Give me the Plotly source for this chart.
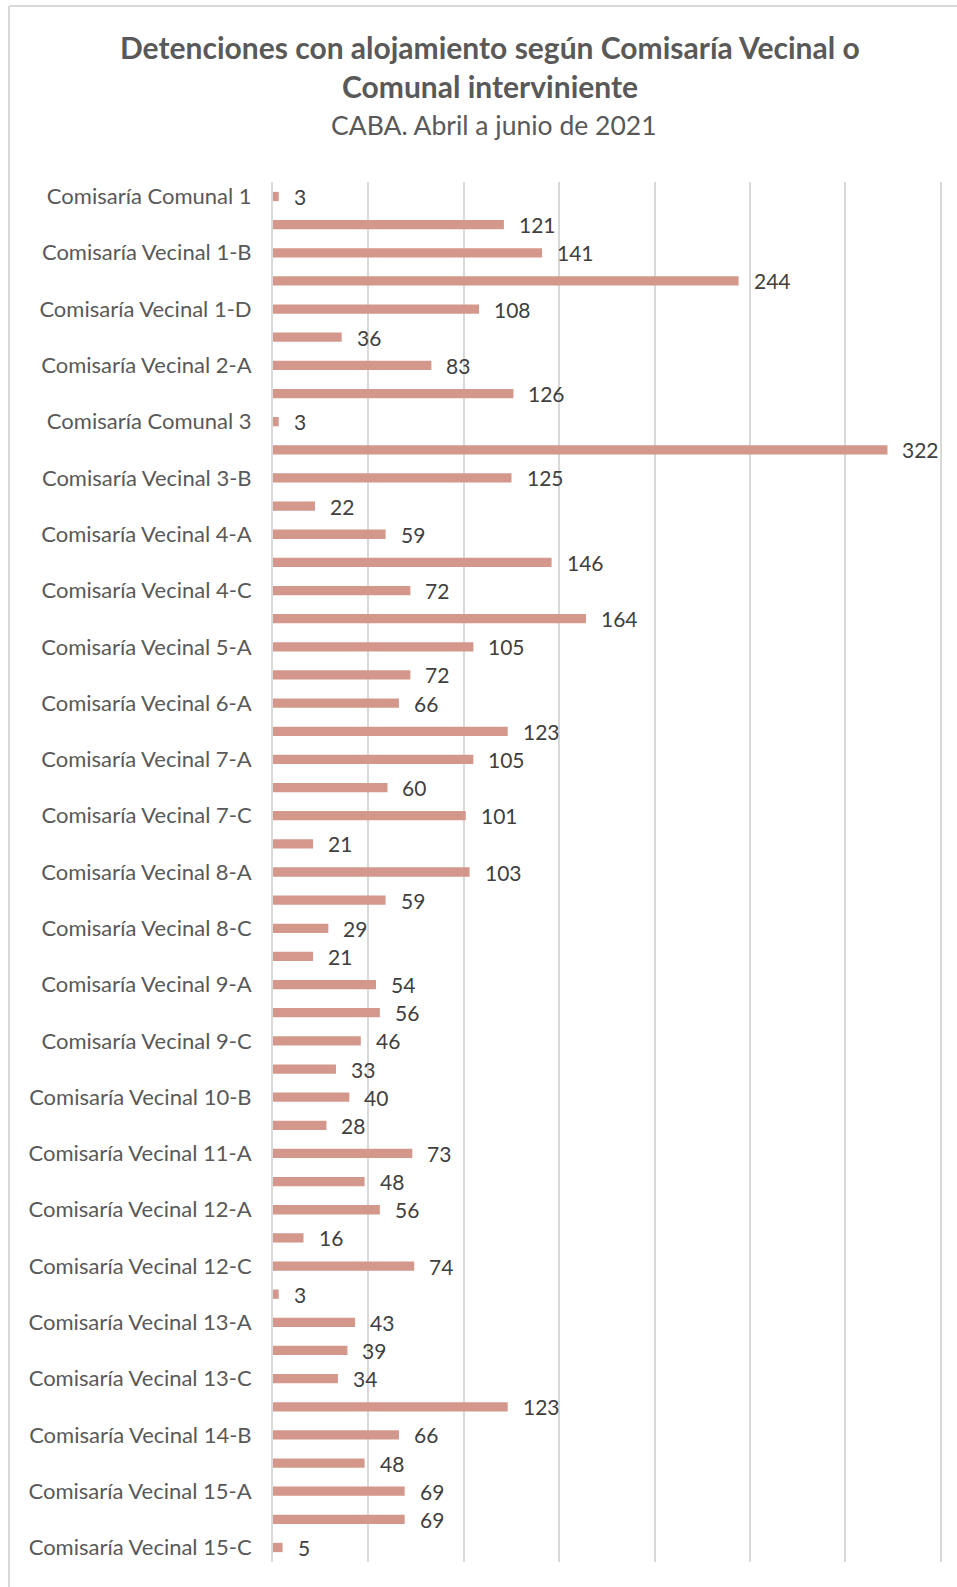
import plotly.graph_objects as go

categories = [
    "Comisaría Comunal 1", "Comisaría Vecinal 1-A", "Comisaría Vecinal 1-B", "Comisaría Vecinal 1-C",
    "Comisaría Vecinal 1-D", "Comisaría Vecinal 1-E", "Comisaría Vecinal 2-A", "Comisaría Vecinal 2-B",
    "Comisaría Comunal 3", "Comisaría Vecinal 3-A", "Comisaría Vecinal 3-B", "Comisaría Vecinal 3-C",
    "Comisaría Vecinal 4-A", "Comisaría Vecinal 4-B", "Comisaría Vecinal 4-C", "Comisaría Vecinal 4-D",
    "Comisaría Vecinal 5-A", "Comisaría Vecinal 5-B", "Comisaría Vecinal 6-A", "Comisaría Vecinal 6-B",
    "Comisaría Vecinal 7-A", "Comisaría Vecinal 7-B", "Comisaría Vecinal 7-C", "Comisaría Vecinal 7-D",
    "Comisaría Vecinal 8-A", "Comisaría Vecinal 8-B", "Comisaría Vecinal 8-C", "Comisaría Vecinal 8-D",
    "Comisaría Vecinal 9-A", "Comisaría Vecinal 9-B", "Comisaría Vecinal 9-C", "Comisaría Vecinal 10-A",
    "Comisaría Vecinal 10-B", "Comisaría Vecinal 10-C", "Comisaría Vecinal 11-A", "Comisaría Vecinal 11-B",
    "Comisaría Vecinal 12-A", "Comisaría Vecinal 12-B", "Comisaría Vecinal 12-C", "Comisaría Vecinal 12-D",
    "Comisaría Vecinal 13-A", "Comisaría Vecinal 13-B", "Comisaría Vecinal 13-C", "Comisaría Vecinal 14-A",
    "Comisaría Vecinal 14-B", "Comisaría Vecinal 14-C", "Comisaría Vecinal 15-A", "Comisaría Vecinal 15-B",
    "Comisaría Vecinal 15-C",
]

detenciones = [
    3, 121, 141, 244, 108, 36, 83, 126, 3, 322,
    125, 22, 59, 146, 72, 164, 105, 72, 66, 123,
    105, 60, 101, 21, 103, 59, 29, 21, 54, 56,
    46, 33, 40, 28, 73, 48, 56, 16, 74, 3,
    43, 39, 34, 123, 66, 48, 69, 69, 5,
]

shown_labels = categories[::2]

title_line1 = "Detenciones con alojamiento según Comisaría Vecinal o"
title_line2 = "Comunal interviniente"
subtitle = "CABA. Abril a junio de 2021"

W, H = 957, 1587
L, R, T, B = 273, 15, 182, 25
PW, PH = W - L - R, H - T - B

def px_x(x):
    return (x - L) / PW

def px_y(y):
    return (H - B - y) / PH

FONT = "Lato"
GRAY = "#595959"

fig = go.Figure()
fig.add_trace(go.Bar(
    x=detenciones,
    y=categories,
    orientation="h",
    marker=dict(color="#D3978C", line=dict(width=0)),
    hoverinfo="x+y",
))

annotations = []
for c, v in zip(categories, detenciones):
    annotations.append(dict(
        x=v, y=c, xref="x", yref="y", text=str(v), showarrow=False,
        xanchor="left", yanchor="middle", xshift=13,
        font=dict(family=FONT, size=21, color="#404040"),
    ))

cx = px_x(490)
annotations += [
    dict(x=cx, y=px_y(47), xref="paper", yref="paper", text="<b>" + title_line1 + "</b>",
         showarrow=False, xanchor="center", yanchor="middle",
         font=dict(family=FONT, size=30, color=GRAY)),
    dict(x=cx, y=px_y(86), xref="paper", yref="paper", text="<b>" + title_line2 + "</b>",
         showarrow=False, xanchor="center", yanchor="middle",
         font=dict(family=FONT, size=30, color=GRAY)),
    dict(x=px_x(494), y=px_y(125), xref="paper", yref="paper", text=subtitle,
         showarrow=False, xanchor="center", yanchor="middle",
         font=dict(family=FONT, size=26.5, color=GRAY)),
]

shapes = [
    dict(type="line", xref="paper", yref="paper", x0=px_x(9), x1=px_x(W + 10),
         y0=px_y(6), y1=px_y(6), line=dict(color="#D9D9D9", width=2)),
    dict(type="line", xref="paper", yref="paper", x0=px_x(9), x1=px_x(9),
         y0=px_y(6), y1=px_y(H + 10), line=dict(color="#D9D9D9", width=2)),
]

fig.update_layout(
    width=W, height=H,
    margin=dict(l=L, r=R, t=T, b=B, pad=0),
    paper_bgcolor="white", plot_bgcolor="white",
    bargap=0.67,
    showlegend=False,
    annotations=annotations,
    shapes=shapes,
    xaxis=dict(range=[0, 350.6], dtick=50, tick0=0, showticklabels=False,
               showgrid=True, gridcolor="#D9D9D9", gridwidth=2,
               zeroline=False, showline=False, fixedrange=True),
    yaxis=dict(type="category", autorange="reversed",
               tickmode="array", tickvals=shown_labels, ticktext=shown_labels,
               ticks="", showgrid=False, zeroline=False,
               showline=True, linecolor="#D9D9D9", linewidth=2,
               ticklabelstandoff=15,
               tickfont=dict(family=FONT, size=22, color=GRAY)),
)

fig.write_html("out.html", config={"displayModeBar": False},
               post_script="document.body.style.margin='0';")
